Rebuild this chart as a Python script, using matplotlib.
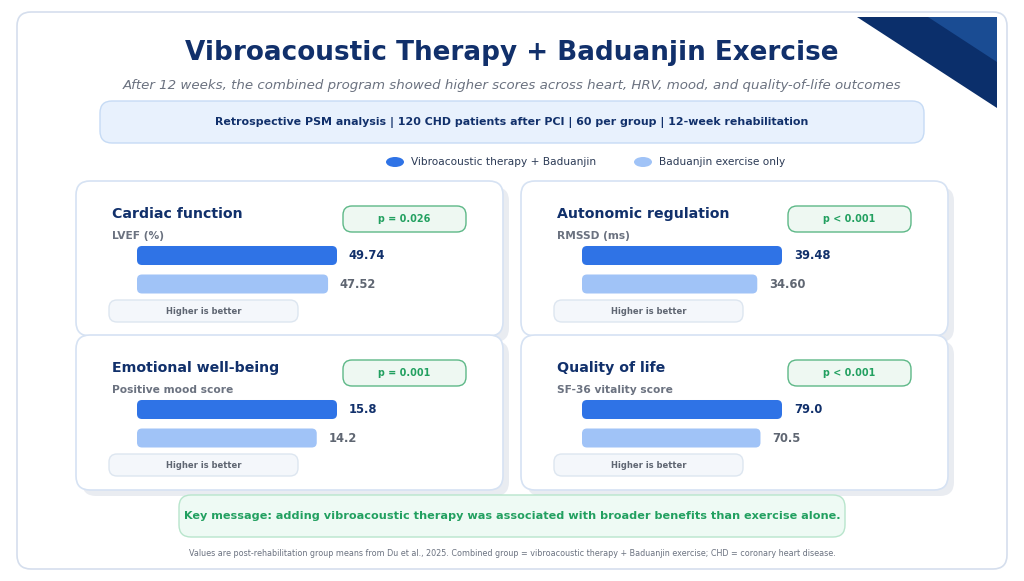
import matplotlib
matplotlib.use('Agg')
import matplotlib.pyplot as plt
from matplotlib.patches import FancyBboxPatch, Polygon, Ellipse

# ── Data ──────────────────────────────────────────────────────────────────────
panel_titles = ['Cardiac function', 'Autonomic regulation', 'Emotional well-being', 'Quality of life']
metrics = ['LVEF (%)', 'RMSSD (ms)', 'Positive mood score', 'SF-36 vitality score']
combined = [49.74, 39.48, 15.8, 79.0]
exercise = [47.52, 34.60, 14.2, 70.5]
decimals = [2, 2, 1, 1]
p_labels = ['p = 0.026', 'p < 0.001', 'p = 0.001', 'p < 0.001']
series_names = ['Vibroacoustic therapy + Baduanjin', 'Baduanjin exercise only']

NAVY = '#11306b'
GRAY = '#6b7280'
BLUE = '#2f73e6'
LIGHT = '#a0c3f7'
GREEN = '#22a060'

W, H = 1024, 581
fig = plt.figure(figsize=(W / 100, H / 100), dpi=100)
ax = fig.add_axes([0, 0, 1, 1])
ax.set_xlim(0, W)
ax.set_ylim(H, 0)
ax.axis('off')
fig.patch.set_facecolor('white')


def rbox(x0, y0, x1, y1, r, fc, ec, lw=1.0, z=1):
    p = FancyBboxPatch((x0, y0), x1 - x0, y1 - y0,
                       boxstyle=f"round,pad=0,rounding_size={r}",
                       fc=fc, ec=ec, lw=lw, zorder=z)
    ax.add_patch(p)
    return p


# ── Outer frame & corner decoration ─────────────────────────────────────────
rbox(17, 12, 1007, 569, 14, 'white', '#d5deed', 1.2, z=0)
ax.add_patch(Polygon([[857, 17], [997, 17], [997, 108]], closed=True,
                     fc='#0b2f6b', ec='none', zorder=2))
ax.add_patch(Polygon([[928, 17], [997, 17], [997, 62]], closed=True,
                     fc='#1a4c93', ec='none', zorder=3))

# ── Header ───────────────────────────────────────────────────────────────────
ax.text(512, 53, 'Vibroacoustic Therapy + Baduanjin Exercise', fontsize=18.9,
        fontweight='bold', color=NAVY, ha='center', va='center')
ax.text(512, 86, 'After 12 weeks, the combined program showed higher scores across heart, HRV, mood, and quality-of-life outcomes',
        fontsize=9.65, style='italic', color=GRAY, ha='center', va='center')
rbox(100, 101, 924, 143, 12, '#e8f1fd', '#c6dbf5', 1.0)
ax.text(512, 122, 'Retrospective PSM analysis | 120 CHD patients after PCI | 60 per group | 12-week rehabilitation',
        fontsize=7.9, fontweight='bold', color=NAVY, ha='center', va='center')

# legend
for lx, col, name in [(395, BLUE, series_names[0]), (643, LIGHT, series_names[1])]:
    ax.add_patch(Ellipse((lx, 162), 18, 10, fc=col, ec='none'))
    ax.text(lx + 16, 162, name, fontsize=7.6, color='#2b3a55', ha='left', va='center')

# ── Panels ───────────────────────────────────────────────────────────────────
panel_origins = [(76, 181), (521, 181), (76, 335), (521, 335)]
pw, ph = 427, 155

for i, (px, py) in enumerate(panel_origins):
    rbox(px + 6, py + 6, px + pw + 6, py + ph + 6, 14, '#e9ecf1', 'none', 0, z=1)
    rbox(px, py, px + pw, py + ph, 14, 'white', '#d6e2f3', 1.2, z=2)

    ax.text(px + 36, py + 33, panel_titles[i], fontsize=10.2, fontweight='bold',
            color=NAVY, ha='left', va='center', zorder=3)
    ax.text(px + 36, py + 55, metrics[i], fontsize=7.7, fontweight='bold',
            color=GRAY, ha='left', va='center', zorder=3)

    rbox(px + 267, py + 25, px + 390, py + 51, 9, '#eef8f2', '#5db887', 1.0, z=3)
    ax.text(px + 328.5, py + 38, p_labels[i], fontsize=6.9, fontweight='bold',
            color=GREEN, ha='center', va='center', zorder=4)

    rbox(px + 33, py + 119, px + 222, py + 141, 8, '#f4f7fb', '#dde6f0', 1.0, z=3)
    ax.text(px + 127.5, py + 130, 'Higher is better', fontsize=6.0, fontweight='bold',
            color='#5f6672', ha='center', va='center', zorder=4)

    # bars in their own axes: the larger value spans 200 px
    vals = [combined[i], exercise[i]]
    vmax = max(vals)
    bx0, by0, bw, bh = px + 61, py + 60.25, 200, 57
    bax = fig.add_axes([bx0 / W, 1 - (by0 + bh) / H, bw / W, bh / H])
    bax.set_xlim(0, vmax)
    bax.set_ylim(1.5, -0.5)
    bax.axis('off')
    bars = bax.barh([0, 1], vals, height=0.667, color=[BLUE, LIGHT])
    aspect = (2 / bh) / (vmax / bw)
    for b in bars:
        b.set_visible(False)
        bax.add_patch(FancyBboxPatch((b.get_x(), b.get_y()), b.get_width(), b.get_height(),
                                     boxstyle=f"round,pad=0,rounding_size={5 * vmax / bw}",
                                     mutation_aspect=aspect, fc=b.get_facecolor(),
                                     ec='none', clip_on=False))
    for j, v in enumerate(vals):
        bax.annotate(f"{v:.{decimals[i]}f}", xy=(v, j), xytext=(8.5, 0),
                     textcoords='offset points', fontsize=8.3, fontweight='bold',
                     color=NAVY if j == 0 else '#5f6672', ha='left', va='center',
                     annotation_clip=False)

# ── Key message & footnote ───────────────────────────────────────────────────
rbox(179, 495, 845, 537, 12, '#eefaf4', '#b8e5cc', 1.0)
ax.text(512, 516, 'Key message: adding vibroacoustic therapy was associated with broader benefits than exercise alone.',
        fontsize=8.1, fontweight='bold', color=GREEN, ha='center', va='center')
ax.text(512, 553, 'Values are post-rehabilitation group means from Du et al., 2025. Combined group = vibroacoustic therapy + Baduanjin exercise; CHD = coronary heart disease.',
        fontsize=5.8, color=GRAY, ha='center', va='center')

fig.savefig('out.png', dpi=100, facecolor='white')
